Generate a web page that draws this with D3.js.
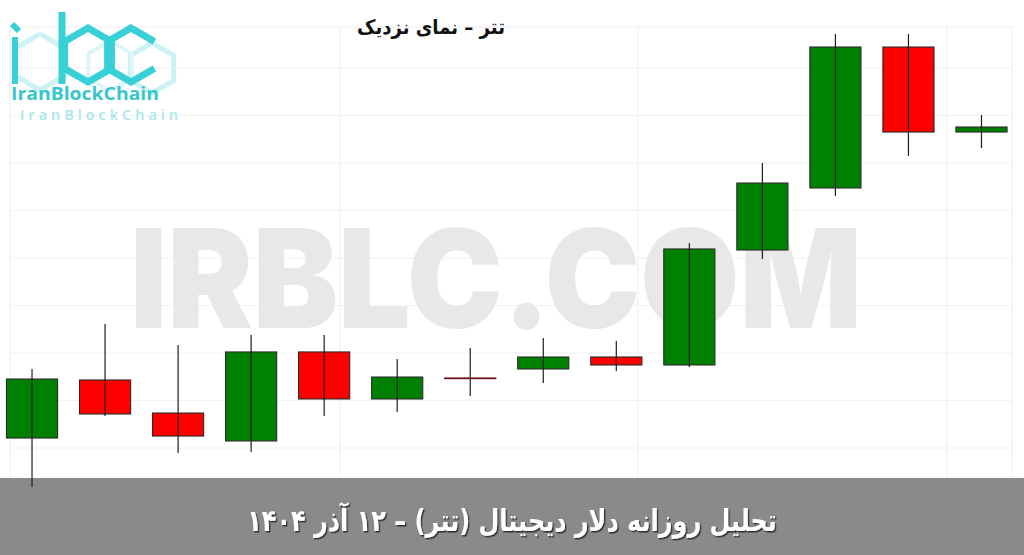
<!DOCTYPE html>
<html>
<head>
<meta charset="utf-8">
<script src="https://cdn.jsdelivr.net/npm/d3@7"></script>
<style>
  html, body { margin: 0; padding: 0; background: #fff; overflow: hidden; }
</style>
</head>
<body>
<script>
// daily candles, 29 Aban .. 12 Azar 1404 (price in toman)
var dates = ["۲۹ آبان", "۳۰ آبان", "۱ آذر", "۲ آذر", "۳ آذر", "۴ آذر", "۵ آذر",
             "۶ آذر", "۷ آذر", "۸ آذر", "۹ آذر", "۱۰ آذر", "۱۱ آذر", "۱۲ آذر"];
var opens  = [113105, 113716, 113368, 113074, 114011, 113516, 113737, 113832, 113958, 113874, 115084, 115737, 117221, 116326];
var highs  = [113832, 114305, 114084, 114189, 114189, 113937, 114053, 114158, 114126, 115158, 116000, 117358, 117358, 116505];
var lows   = [112589, 113337, 112947, 112958, 113337, 113379, 113547, 113684, 113811, 113853, 114989, 115653, 116074, 116158];
var closes = [113726, 113358, 113126, 114011, 113516, 113747, 113730, 113958, 113874, 115095, 115789, 117221, 116326, 116379];

var priceTicks = [113000, 113500, 114000, 114500, 115000, 115500, 116000, 116500, 117000];

var chartTitle = "تتر – نمای نزدیک";
var footerText = "تحلیل روزانه دلار دیجیتال (تتر) – ۱۲ آذر ۱۴۰۴";
var watermarkText = "IRBLC.COM";
var brandText = "IranBlockChain";

var width = 1024, height = 555;
var frame = {left: 10, right: 1012, top: 27, bottom: 493};
var gridX = [340, 638, 947];
var persianFont = "'DejaVu Sans Condensed', 'DejaVu Sans', sans-serif";

var candles = dates.map(function(d, i) {
  return {date: d, open: opens[i], high: highs[i], low: lows[i], close: closes[i]};
});

var svg = d3.select("body").append("svg")
    .attr("width", width)
    .attr("height", height);

var defs = svg.append("defs");
var shadow = defs.append("filter").attr("id", "shadow")
    .attr("x", "-10%").attr("y", "-30%").attr("width", "120%").attr("height", "160%");
shadow.append("feDropShadow")
    .attr("dx", 1.5).attr("dy", 1.5).attr("stdDeviation", 0.7)
    .attr("flood-color", "#1e1e1e").attr("flood-opacity", 0.85);

var x = d3.scaleBand()
    .domain(dates)
    .range([-4.5, 1018])
    .paddingInner(0.3)
    .paddingOuter(0.15);

var y = d3.scaleLinear()
    .domain([113000, 117000])
    .range([448, 68]);

//grid
var grid = svg.append("g").attr("class", "grid");
grid.append("rect")
    .attr("x", frame.left).attr("y", frame.top)
    .attr("width", frame.right - frame.left)
    .attr("height", frame.bottom - frame.top)
    .attr("fill", "none")
    .attr("stroke", "#f0f0f0")
    .attr("stroke-width", 1.2);

grid.selectAll(".hline")
    .data(priceTicks)
  .enter().append("line")
    .attr("class", "hline")
    .attr("x1", frame.left).attr("x2", frame.right)
    .attr("y1", function(d) { return y(d); })
    .attr("y2", function(d) { return y(d); })
    .attr("stroke", "#f2f2f2")
    .attr("stroke-width", 1.2);

grid.selectAll(".vline")
    .data(gridX)
  .enter().append("line")
    .attr("class", "vline")
    .attr("x1", function(d) { return d; }).attr("x2", function(d) { return d; })
    .attr("y1", frame.top).attr("y2", frame.bottom)
    .attr("stroke", "#f2f2f2")
    .attr("stroke-width", 1.2);

//watermark
var wm = svg.append("text")
    .attr("x", 0).attr("y", 328)
    .attr("font-family", "Inter, Lato, Roboto, sans-serif")
    .attr("font-weight", 900)
    .attr("font-size", 137)
    .attr("fill", "#e8e8e8")
    .text(watermarkText);
fitText(wm, 130, 732);

//footer band (wicks run a little over it)
svg.append("rect")
    .attr("x", 0).attr("y", 478)
    .attr("width", width).attr("height", height - 478)
    .attr("fill", "#8a8a8a");

//candles
var candle = svg.selectAll(".candle")
    .data(candles)
  .enter().append("g")
    .attr("class", "candle");

candle.append("rect")
    .attr("x", function(d) { return x(d.date); })
    .attr("width", x.bandwidth())
    .attr("y", function(d) { return y(Math.max(d.open, d.close)); })
    .attr("height", function(d) { return Math.max(0.5, Math.abs(y(d.open) - y(d.close))); })
    .attr("fill", function(d) { return d.close >= d.open ? "#008000" : "#ff0000"; })
    .attr("stroke", function(d) { return Math.abs(d.close - d.open) < 20 ? "#6b0f0f" : "#2a2a2a"; })
    .attr("stroke-width", 1.1);

candle.append("line")
    .attr("x1", function(d) { return x(d.date) + x.bandwidth() / 2; })
    .attr("x2", function(d) { return x(d.date) + x.bandwidth() / 2; })
    .attr("y1", function(d) { return y(d.high); })
    .attr("y2", function(d) { return y(d.low); })
    .attr("stroke", "#1f1f1f")
    .attr("stroke-width", 1.2);

//title
var title = svg.append("text")
    .attr("x", 0).attr("y", 34)
    .attr("text-anchor", "middle")
    .attr("direction", "rtl")
    .attr("font-family", persianFont)
    .attr("font-weight", "bold")
    .attr("font-size", 20)
    .attr("fill", "#111")
    .text(chartTitle);
fitText(title, 431, 148);

//logo
var logo = svg.append("g").attr("class", "logo")
    .attr("fill", "none")
    .attr("stroke-linejoin", "miter");

logo.append("path").attr("d", hexPath(40, 62, 28, false))
    .attr("stroke", "#cdf2f4").attr("stroke-width", 5);
logo.append("path").attr("d", hexPath(152, 68, 25, false))
    .attr("stroke", "#cdf2f4").attr("stroke-width", 5);
logo.append("path").attr("d", hexPath(110, 66, 25, false))
    .attr("stroke", "#dcf6f7").attr("stroke-width", 4);

logo.append("line").attr("x1", 15).attr("y1", 37).attr("x2", 15).attr("y2", 84)
    .attr("stroke", "#36d0d6").attr("stroke-width", 6);
logo.append("line").attr("x1", 12).attr("y1", 24).attr("x2", 19).attr("y2", 31)
    .attr("stroke", "#36d0d6").attr("stroke-width", 6);
logo.append("line").attr("x1", 62).attr("y1", 12).attr("x2", 62).attr("y2", 84)
    .attr("stroke", "#36d0d6").attr("stroke-width", 7);
logo.append("path").attr("d", hexPath(88, 55, 27, false))
    .attr("stroke", "#36d0d6").attr("stroke-width", 7);
logo.append("path").attr("d", hexPath(131, 55, 27, true))
    .attr("stroke", "#36d0d6").attr("stroke-width", 7);

svg.append("text")
    .attr("x", 11).attr("y", 100)
    .attr("font-family", "'Open Sans', sans-serif")
    .attr("font-weight", "bold")
    .attr("font-size", 17)
    .attr("fill", "#38c6cc")
    .attr("textLength", 148)
    .attr("lengthAdjust", "spacingAndGlyphs")
    .text(brandText);

svg.append("text")
    .attr("x", 20).attr("y", 120)
    .attr("font-family", "'Open Sans', sans-serif")
    .attr("font-weight", 600)
    .attr("font-size", 14.5)
    .attr("fill", "#a9e7ea")
    .attr("textLength", 158)
    .attr("lengthAdjust", "spacing")
    .text(brandText);

//footer text
var footer = svg.append("text")
    .attr("x", 0).attr("y", 531)
    .attr("text-anchor", "middle")
    .attr("direction", "rtl")
    .attr("font-family", persianFont)
    .attr("font-weight", "bold")
    .attr("font-size", 30)
    .attr("fill", "#ffffff")
    .attr("filter", "url(#shadow)")
    .text(footerText);
fitText(footer, 512, 530);

//scale a text node horizontally so it takes the wanted width
function fitText(sel, px, targetW) {
  var w = sel.node().getComputedTextLength();
  var s = w > 0 ? targetW / w : 1;
  sel.attr("transform", "translate(" + px + ",0) scale(" + s + ",1)");
}

//pointy-top hexagon, open = leave the right edge out (for the "c")
function hexPath(cx, cy, r, open) {
  var pts = d3.range(6).map(function(k) {
    var a = (-90 + 60 * k) * Math.PI / 180;
    return [cx + r * Math.cos(a), cy + r * Math.sin(a)];
  });
  if (open) {
    var order = [1, 0, 5, 4, 3, 2];
    return "M" + order.map(function(k) { return pts[k].join(","); }).join("L");
  }
  return "M" + pts.map(function(p) { return p.join(","); }).join("L") + "Z";
}
</script>
</body>
</html>
